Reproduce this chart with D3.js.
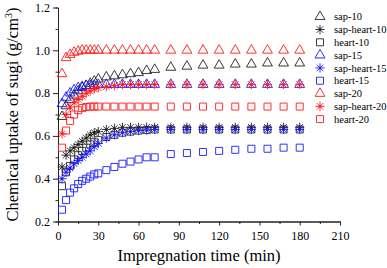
<html>
<head>
<style>
  body { margin: 0; background: #fff; }
  text { font-family: "Liberation Serif", "Times New Roman", serif; fill: #000; }
  .domain, .tick line { stroke: #222; }
</style>
</head>
<body>
<svg id="chart" width="387" height="268"></svg>
<script src="https://d3js.org/d3.v7.min.js"></script>
<script>
// impregnation times (min)
const times = [3, 6, 9, 12, 15, 18, 21, 24, 27, 30, 36, 42, 48, 54, 60, 66, 72, 84, 96, 108, 120, 132, 144, 156, 168, 180]

const sap10      = [0.69, 0.74, 0.77, 0.79, 0.81, 0.825, 0.835, 0.845, 0.855, 0.865, 0.875, 0.88, 0.885, 0.89, 0.895, 0.905, 0.91, 0.92, 0.925, 0.93, 0.93, 0.935, 0.935, 0.94, 0.94, 0.94]
const sapHeart10 = [0.455, 0.51, 0.53, 0.545, 0.56, 0.575, 0.59, 0.605, 0.615, 0.62, 0.63, 0.635, 0.64, 0.64, 0.64, 0.64, 0.64, 0.64, 0.64, 0.64, 0.64, 0.64, 0.64, 0.64, 0.64, 0.64]
const heart10    = [0.365, 0.43, 0.46, 0.49, 0.51, 0.53, 0.545, 0.56, 0.57, 0.58, 0.595, 0.605, 0.615, 0.62, 0.625, 0.627, 0.63, 0.63, 0.63, 0.63, 0.63, 0.63, 0.63, 0.63, 0.63, 0.63]
const sap15      = [0.75, 0.78, 0.80, 0.815, 0.825, 0.83, 0.835, 0.835, 0.835, 0.84, 0.84, 0.84, 0.84, 0.84, 0.84, 0.84, 0.84, 0.84, 0.84, 0.84, 0.84, 0.84, 0.84, 0.84, 0.84, 0.84]
const sapHeart15 = [0.40, 0.43, 0.45, 0.47, 0.485, 0.50, 0.515, 0.53, 0.55, 0.565, 0.59, 0.605, 0.615, 0.62, 0.625, 0.627, 0.63, 0.63, 0.63, 0.63, 0.63, 0.63, 0.63, 0.63, 0.63, 0.63]
const heart15    = [0.255, 0.30, 0.335, 0.355, 0.375, 0.39, 0.40, 0.41, 0.42, 0.425, 0.44, 0.455, 0.47, 0.48, 0.49, 0.50, 0.50, 0.515, 0.52, 0.525, 0.53, 0.535, 0.54, 0.54, 0.545, 0.545]
const sap20      = [0.89, 0.965, 0.98, 0.99, 0.995, 1.0, 1.0, 1.0, 1.0, 1.0, 1.0, 1.0, 1.0, 1.0, 1.0, 1.0, 1.0, 1.0, 1.0, 1.0, 1.0, 1.0, 1.0, 1.0, 1.0, 1.0]
const sapHeart20 = [0.61, 0.70, 0.735, 0.755, 0.77, 0.785, 0.80, 0.81, 0.82, 0.825, 0.83, 0.835, 0.84, 0.84, 0.84, 0.84, 0.84, 0.84, 0.84, 0.84, 0.84, 0.84, 0.84, 0.84, 0.84, 0.84]
const heart20    = [0.545, 0.625, 0.67, 0.70, 0.72, 0.73, 0.735, 0.737, 0.737, 0.737, 0.737, 0.737, 0.737, 0.737, 0.737, 0.737, 0.737, 0.737, 0.737, 0.737, 0.737, 0.737, 0.737, 0.737, 0.737, 0.737]

const seriesNames = ["sap-10", "sap-heart-10", "heart-10", "sap-15", "sap-heart-15", "heart-15", "sap-20", "sap-heart-20", "heart-20"]
const seriesValues = [sap10, sapHeart10, heart10, sap15, sapHeart15, heart15, sap20, sapHeart20, heart20]

const xTicks = [0, 30, 60, 90, 120, 150, 180, 210]
const yTicks = [0.2, 0.4, 0.6, 0.8, 1.0, 1.2]

const colors = ["#222", "#222", "#222", "#1a1aff", "#1a1aff", "#1a1aff", "#ff1a1a", "#ff1a1a", "#ff1a1a"]
const kinds = ["tri", "star", "sq"]

// 8-armed asterisk like the origin marker
const asterisk = {
    draw(ctx, size) {
        let r = Math.sqrt(size) / 2
        let d = r * Math.SQRT1_2
        ctx.moveTo(0, -r); ctx.lineTo(0, r)
        ctx.moveTo(-r, 0); ctx.lineTo(r, 0)
        ctx.moveTo(-d, -d); ctx.lineTo(d, d)
        ctx.moveTo(-d, d); ctx.lineTo(d, -d)
    }
}
const symbols = {
    tri: d3.symbol().type(d3.symbolTriangle).size(42),
    sq: d3.symbol().type(d3.symbolSquare).size(49),
    star: d3.symbol().type(asterisk).size(85)
}

let svg = d3.select("#chart")

let xScale = d3.scaleLinear().domain([0, 210]).range([58, 340])
let yScale = d3.scaleLinear().domain([0.2, 1.2]).range([221.5, 7.5])

// axes
svg.append("g")
    .attr("transform", "translate(0," + yScale(0.2) + ")")
    .call(d3.axisBottom(xScale).tickValues(d3.range(15, 210, 30)).tickSize(2.5).tickFormat(""))
svg.append("g")
    .attr("transform", "translate(0," + yScale(0.2) + ")")
    .call(d3.axisBottom(xScale).tickValues(xTicks).tickSize(4).tickSizeOuter(0).tickPadding(6))
    .selectAll("text").style("font-size", "12px")

svg.append("g")
    .attr("transform", "translate(" + xScale(0) + ",0)")
    .call(d3.axisLeft(yScale).tickValues(d3.range(0.3, 1.2, 0.2)).tickSize(2.5).tickFormat(""))
svg.append("g")
    .attr("transform", "translate(" + xScale(0) + ",0)")
    .call(d3.axisLeft(yScale).tickValues(yTicks).tickSize(5).tickSizeOuter(0).tickPadding(3).tickFormat(d3.format(".1f")))
    .selectAll("text").style("font-size", "12px")

svg.selectAll(".domain").attr("stroke-width", 1)

// axis titles
svg.append("text")
    .attr("x", (xScale(0) + xScale(210)) / 2)
    .attr("y", 261)
    .attr("text-anchor", "middle")
    .style("font-size", "16.5px")
    .text("Impregnation time (min)")

let yt = svg.append("text")
    .attr("transform", "translate(18," + (yScale(0.7)) + ") rotate(-90)")
    .attr("text-anchor", "middle")
    .style("font-size", "16.5px")
yt.append("tspan").text("Chemical uptake of sugi (g/cm")
yt.append("tspan").attr("dy", -6).style("font-size", "10px").text("3")
yt.append("tspan").attr("dy", 6).text(")")

// markers
seriesValues.forEach((vals, i) => {
    let kind = kinds[i % 3]
    let g = svg.append("g")
    let pts = vals.map((v, j) => ({ t: times[j], v: v }))
    g.selectAll("path")
        .data(pts)
        .join("path")
        .attr("transform", d => "translate(" + xScale(d.t) + "," + yScale(d.v) + ")")
        .attr("d", symbols[kind]())
        .attr("fill", "none")
        .attr("stroke", colors[i])
        .attr("stroke-width", 0.9)
    if (kind == "star") {
        g.selectAll("circle")
            .data(pts)
            .join("circle")
            .attr("cx", d => xScale(d.t))
            .attr("cy", d => yScale(d.v))
            .attr("r", 1.2)
            .attr("fill", colors[i])
    }
})

// legend
let legend = svg.append("g").attr("transform", "translate(320,16.7)")
seriesNames.forEach((name, i) => {
    let kind = kinds[i % 3]
    let row = legend.append("g").attr("transform", "translate(0," + (i * 12.8) + ")")
    row.append("path")
        .attr("d", symbols[kind]())
        .attr("fill", "none")
        .attr("stroke", colors[i])
        .attr("stroke-width", 0.9)
    if (kind == "star") row.append("circle").attr("r", 1.2).attr("fill", colors[i])
    row.append("text")
        .attr("x", 14)
        .attr("dy", "0.35em")
        .style("font-size", "10.5px")
        .text(name)
})
</script>
</body>
</html>
